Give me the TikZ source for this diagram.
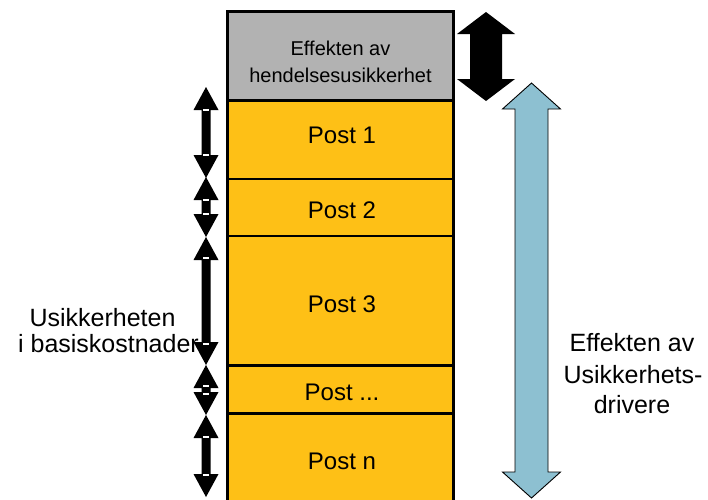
\documentclass[tikz,border=0pt]{standalone}
\usepackage{fontspec}
\setmainfont{Liberation Sans}
\definecolor{postfill}{RGB}{254,192,22}
\definecolor{headfill}{RGB}{178,178,178}
\definecolor{driverblue}{RGB}{141,192,209}

% vertical double-headed block arrow:
% #1 style, #2 centre x, #3 top tip y, #4 bottom tip y,
% #5 half shaft width, #6 half head width, #7 head length
\newcommand\vdblarrow[7]{%
  \path[#1] (#2,#3) -- (#2+#6,#3+#7) -- (#2+#5,#3+#7) -- (#2+#5,#4-#7)
    -- (#2+#6,#4-#7) -- (#2,#4) -- (#2-#6,#4-#7) -- (#2-#5,#4-#7)
    -- (#2-#5,#3+#7) -- (#2-#6,#3+#7) -- cycle;}
% small light seams where the heads meet the shaft
\newcommand\seams[4]{%
  \fill[white] (#1-3,#2+#4-0.8) rectangle (#1+3,#2+#4+0.8);
  \fill[white] (#1-3,#3-#4-0.8) rectangle (#1+3,#3-#4+0.8);}

\begin{document}
\begin{tikzpicture}[x=1pt,y=-1pt,
  stackbox/.style={draw=black, line width=2.5pt, minimum width=226pt,
    inner sep=0pt, outer sep=0pt, anchor=north west},
  posttext/.style={font=\fontsize{24}{28}\selectfont, anchor=base, inner sep=0pt},
  headtext/.style={font=\fontsize{20}{24}\selectfont, anchor=base, inner sep=0pt},
  sidetext/.style={font=\fontsize{25}{30}\selectfont, anchor=base, inner sep=0pt},
  smallarrow/.style={fill=black},
  bigarrow/.style={fill=black},
  bluearrow/.style={fill=driverblue, draw=black, line width=0.9pt, line join=miter}]
\useasboundingbox (0,0) rectangle (708,499);

% cost stack
\node[stackbox, fill=headfill, minimum height=89pt]  (head)  at (227.5,11.5)  {};
\node[stackbox, fill=postfill, minimum height=78.5pt] (post1) at (227.5,100.5) {};
\node[stackbox, fill=postfill, minimum height=57pt]  (post2) at (227.5,179)   {};
\node[stackbox, fill=postfill, minimum height=129.5pt] (post3) at (227.5,236) {};
\node[stackbox, fill=postfill, minimum height=48pt]  (postd) at (227.5,365.5) {};
\node[stackbox, fill=postfill, minimum height=92pt]  (postn) at (227.5,413.5) {};

\node[headtext] (h1) at (340.5,55) {Effekten av};
\node[headtext] (h2) at (340.5,82) {hendelsesusikkerhet};
\node[posttext] (t1) at (342,143.3) {Post 1};
\node[posttext] (t2) at (342,218)   {Post 2};
\node[posttext] (t3) at (342,312)   {Post 3};
\node[posttext] (td) at (342,400.7) {Post ...};
\node[posttext] (tn) at (342,469)   {Post n};

% uncertainty of each post
\vdblarrow{smallarrow}{206}{87}{178}{4.5}{12.5}{23}
\vdblarrow{smallarrow}{206}{177}{237}{4.5}{12.5}{23}
\vdblarrow{smallarrow}{206}{237}{365}{4.5}{12.5}{23}
\vdblarrow{smallarrow}{206}{365}{415}{4.5}{12.5}{23}
\vdblarrow{smallarrow}{206}{415}{497}{4.5}{12.5}{23}
\seams{206}{87}{178}{23}
\seams{206}{177}{237}{23}
\seams{206}{237}{365}{21}
\seams{206}{365}{415}{21}
\seams{206}{415}{497}{22}

% event uncertainty and driver uncertainty
\vdblarrow{bigarrow}{486}{12}{101}{16}{29}{22}
\vdblarrow{bluearrow}{531.5}{83}{498}{16.5}{29}{26}

% side labels
\node[sidetext] (l1) at (102.5,326.7) {Usikkerheten};
\node[sidetext] (l2) at (108.5,352.7) {i basiskostnader};
\node[sidetext] (r1) at (632,351.7) {Effekten av};
\node[sidetext] (r2) at (633,383)   {Usikkerhets-};
\node[sidetext] (r3) at (632,413)   {drivere};
\end{tikzpicture}
\end{document}
